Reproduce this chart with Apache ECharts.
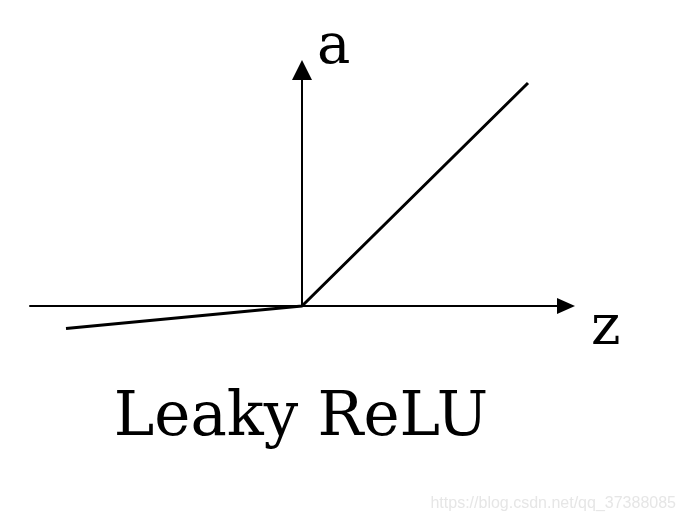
<!DOCTYPE html>
<html>
<head>
<meta charset="utf-8">
<script src="https://cdn.jsdelivr.net/npm/echarts@6/dist/echarts.min.js"></script>
<style>
  html, body { margin: 0; padding: 0; background: #fff; }
  #chart { width: 685px; height: 523px; }
</style>
</head>
<body>
<div id="chart"></div>
<script>
// leaky relu: a = max(0.1z, z), three corner points
const zValues = [-4.72, 0, 4.52];
const aValues = [-0.45, 0, 4.46];
const xName = "z";
const yName = "a";
const titleText = "Leaky ReLU";
const watermark = "https://blog.csdn.net/qq_37388085";

const points = zValues.map((z, i) => [z, aValues[i]]);

const chart = echarts.init(document.getElementById("chart"));

const hiddenBits = {
  axisTick: { show: false },
  axisLabel: { show: false },
  splitLine: { show: false },
};

// the triangle sits centred on the axis end, so the grid stops half an arrow short
chart.setOption({
  animation: false,
  backgroundColor: "#fff",
  grid: { left: 30, right: 119, top: 70, bottom: 217 },
  xAxis: {
    type: "value",
    min: -5.44,
    max: 5.28,
    axisLine: {
      onZero: true,
      lineStyle: { color: "#000", width: 2 },
      symbol: ["none", "triangle"],
      symbolSize: [16, 18],
    },
    ...hiddenBits,
  },
  yAxis: {
    type: "value",
    min: 0,
    max: 4.72,
    axisLine: {
      onZero: true,
      lineStyle: { color: "#000", width: 2 },
      symbol: ["none", "triangle"],
      symbolSize: [20, 20],
    },
    ...hiddenBits,
  },
  series: [{
    type: "line",
    data: points,
    symbol: "none",
    clip: false,
    lineStyle: { color: "#000", width: 3 },
  }],
  graphic: [
    {
      type: "text", x: 317, y: 48,
      style: { text: yName, font: "56px 'DejaVu Serif'", fill: "#000", align: "left", verticalAlign: "middle" },
    },
    {
      type: "text", x: 591, y: 329,
      style: { text: xName, font: "56px 'DejaVu Serif'", fill: "#000", align: "left", verticalAlign: "middle" },
    },
    {
      type: "text", x: 301, y: 419,
      style: { text: titleText, font: "61px 'DejaVu Serif'", fill: "#000", align: "center", verticalAlign: "middle" },
    },
    {
      type: "text", x: 676, y: 504,
      style: { text: watermark, font: "16px 'Liberation Sans'", fill: "#e6e6e6", align: "right", verticalAlign: "middle" },
    },
  ],
});
</script>
</body>
</html>
